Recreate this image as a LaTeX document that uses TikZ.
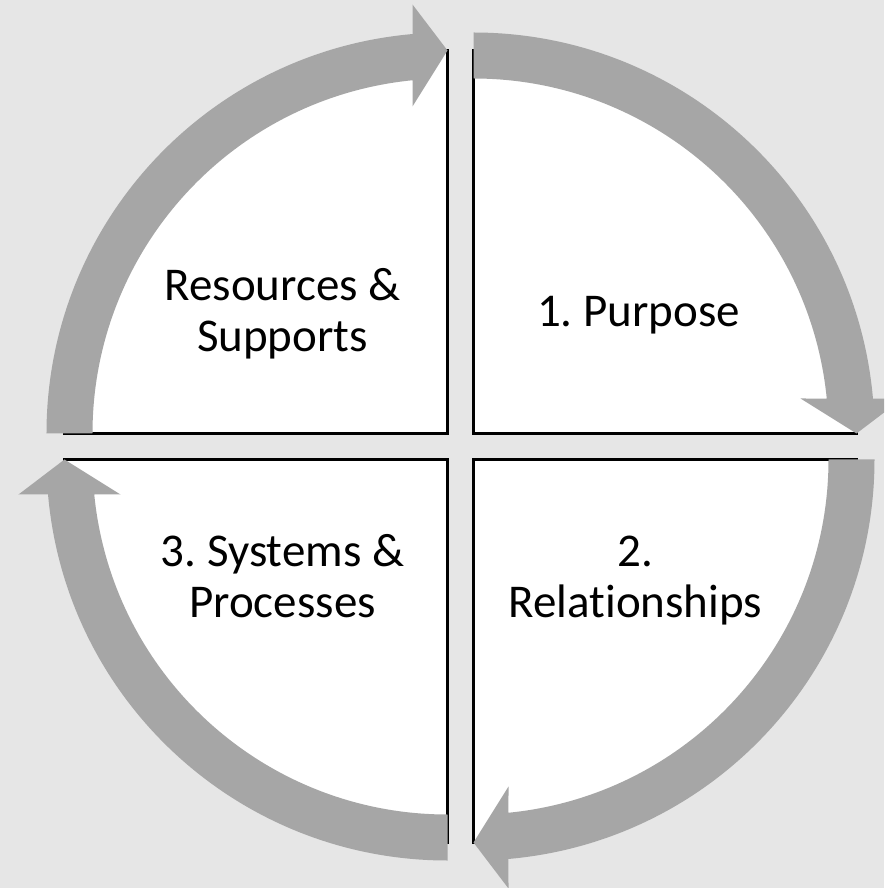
\documentclass[tikz,border=0pt]{standalone}
\usepackage{fontspec}
\setmainfont{Carlito}[Ligatures=NoCommon]
\usepackage{tikz}
\frenchspacing
\definecolor{backgray}{HTML}{E6E6E6}
\definecolor{arrowgray}{HTML}{A6A6A6}
\tikzset{
  phase/.style={font=\fontsize{47}{51}\selectfont,align=center,inner sep=0pt},
  edge/.style={line width=2.2pt,black},
  band/.style={fill=arrowgray},
}

\begin{document}
\begin{tikzpicture}[x=1pt,y=1pt]
% background
\path[use as bounding box,fill=backgray] (-460.5,-441.5) rectangle (423.5,446.5);
\clip (-460.5,-441.5) rectangle (423.5,446.5);
% quarter discs
\fill[white] (13,13) -- ++(90:384) arc[start angle=90,end angle=0,radius=384] -- cycle;
\fill[white] (13,-13) -- ++(0:384) arc[start angle=0,end angle=-90,radius=384] -- cycle;
\fill[white] (-13,-13) -- ++(-90:384) arc[start angle=-90,end angle=-180,radius=384] -- cycle;
\fill[white] (-13,13) -- ++(180:384) arc[start angle=180,end angle=90,radius=384] -- cycle;
% straight edges
\draw[edge] (13,397) -- (13,13) -- (397,13);
\draw[edge] (397,-13) -- (13,-13) -- (13,-397);
\draw[edge] (-13,-397) -- (-13,-13) -- (-397,-13);
\draw[edge] (-397,13) -- (-13,13) -- (-13,397);
% curved arrows, one per quarter, turned clockwise
\foreach \turn in {0,-90,-180,-270}
  \fill[band,rotate=\turn,shift={(13,13)}] (90:355) -- (90:401)
    arc[start angle=90,end angle=5.007,radius=401] -- (429,35) -- (383,0) -- (327,35)
    -- (5.658:355) arc[start angle=5.658,end angle=90,radius=355] -- cycle;
% labels
\node[phase] (purpose) at (178,129.7) {\strut 1. Purpose};
\node[phase] (relations) at (175,-135.3) {\strut 2.\\\strut Relationships};
\node[phase] (systems) at (-178,-135.3) {\strut 3. Systems \&\\\strut Processes};
\node[phase] (resources) at (-178,130.2) {\strut Resources \&\\\strut Supports};
\end{tikzpicture}
\end{document}
